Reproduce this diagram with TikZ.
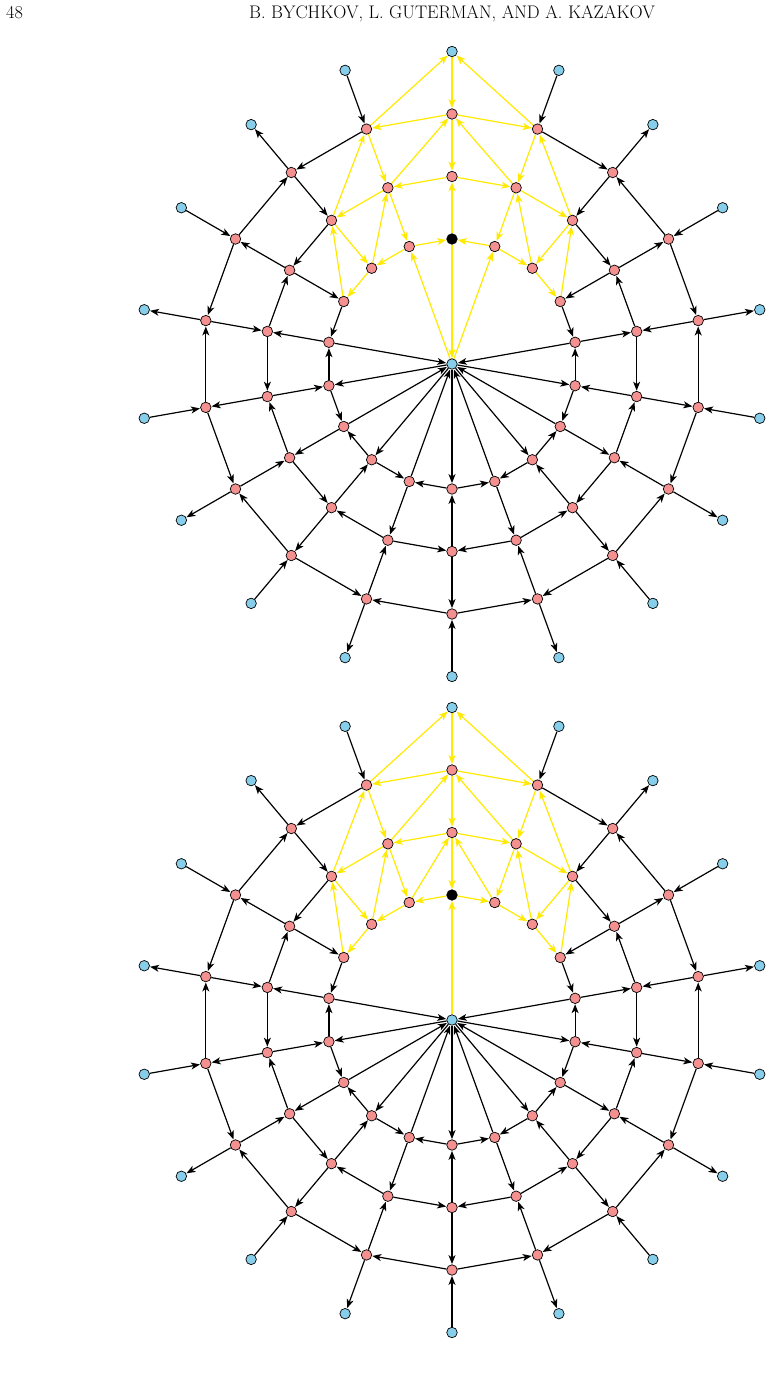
\documentclass[tikz,border=0pt]{standalone}
\usetikzlibrary{arrows.meta}
\definecolor{pinkc}{RGB}{244,144,144}
\definecolor{bluec}{RGB}{135,206,235}
\definecolor{yelc}{RGB}{255,234,0}
\pgfdeclarelayer{edgelayer}
\pgfsetlayers{edgelayer,main}
\tikzset{
  vtx/.style={circle, draw=black, line width=0.7pt, minimum size=10.5pt, inner sep=0pt},
  tipb/.style={-{Stealth[length=9pt,width=7pt,inset=2.5pt]}},
  bedge/.style={tipb, line width=1.2pt, draw=black, shorten >=0.3pt,
    preaction={draw=white, line width=3pt}},
  yedge/.style={tipb, line width=1.2pt, draw=yelc, shorten >=0.3pt,
    preaction={draw=white, line width=3pt}},
  head/.style={inner sep=0pt, font=\fontsize{18.2}{20}\selectfont}
}
\begin{document}
\begin{tikzpicture}[x=1pt,y=-1pt]
\useasboundingbox (0,0) rectangle (771,1373);
\node[head, anchor=base west] (pagenum) at (6,19) {48};
\node[head, anchor=base] (runhead) at (452,19) {B. BYCHKOV, L. GUTERMAN, AND A. KAZAKOV};
% vertices
\foreach \pre/\cy in {t/364,b/1020}{
  \node[vtx, fill=bluec] (\pre-C) at (452,\cy) {};
  \foreach \k in {1,...,4}{
    \foreach \i in {0,...,17}{
      \pgfmathsetmacro\rr{62.5*(\k+1)}
      \ifnum\k=4 \def\fc{bluec}\else\def\fc{pinkc}\fi
      \ifnum\k=1 \ifnum\i=9 \def\fc{black}\fi\fi
      \node[vtx, fill=\fc] (\pre-\k-\i) at ({452-\rr*sin(20*\i)},{\cy+\rr*cos(20*\i)}) {};
    }
  }
}
\begin{pgfonlayer}{edgelayer}
\foreach \pre in {t,b}{
  % ring (angular) edges
  \foreach \k in {1,2,3}{
    \foreach \i in {0,...,17}{
      \pgfmathtruncatemacro\jj{mod(\i+1,18)}
      \pgfmathtruncatemacro\sk{(((\k==1)&&(\i>5)&&(\i<12))||((\k==2)&&(\i>6)&&(\i<11))||((\k==3)&&(\i>7)&&(\i<10))) ? 1 : 0}
      \pgfmathtruncatemacro\pp{mod(\k+\i,2)}
      \ifnum\sk=0
        \ifnum\pp=1 \draw[bedge] (\pre-\k-\i) -- (\pre-\k-\jj);
        \else \draw[bedge] (\pre-\k-\jj) -- (\pre-\k-\i); \fi
      \fi
    }
  }
  % radial edges
  \foreach \k in {1,2,3}{
    \foreach \i in {0,...,17}{
      \pgfmathtruncatemacro\kk{\k+1}
      \pgfmathtruncatemacro\sk{(((\k==1)&&(\i>6)&&(\i<12))||((\k==2)&&(\i>7)&&(\i<11))||((\k==3)&&(\i==9))) ? 1 : 0}
      \pgfmathtruncatemacro\pp{mod(\k+\i,2)}
      \ifnum\sk=0
        \ifnum\pp=0 \draw[bedge] (\pre-\k-\i) -- (\pre-\kk-\i);
        \else \draw[bedge] (\pre-\kk-\i) -- (\pre-\k-\i); \fi
      \fi
    }
  }
  % centre edges
  \foreach \i in {0,...,5,13,14,...,17}{
    \pgfmathtruncatemacro\pp{mod(\i,2)}
    \ifnum\pp=0 \draw[bedge] (\pre-C) -- (\pre-1-\i);
    \else \draw[bedge] (\pre-1-\i) -- (\pre-C); \fi
  }
  % common yellow edges
  \foreach \a/\b in {1-7/1-6, 1-8/1-7, 1-11/1-12, 1-10/1-11,
      2-7/1-7, 2-8/1-8, 2-11/1-11, 2-10/1-10,
      1-6/2-7, 1-7/2-8, 1-12/2-11, 1-11/2-10,
      2-8/2-7, 2-9/2-8, 2-10/2-11, 2-9/2-10,
      3-8/2-8, 3-9/2-9, 3-10/2-10,
      2-7/3-8, 2-8/3-9, 2-11/3-10, 2-10/3-9,
      3-9/3-8, 3-9/3-10, 4-9/3-9, 3-8/4-9, 3-10/4-9}{
    \draw[yedge] (\pre-\a) -- (\pre-\b);
  }
}
% top-only yellow edges
\foreach \a/\b in {1-8/1-9, 1-10/1-9, 1-9/2-9, 1-9/C, C/1-8, C/1-10}{
  \draw[yedge] (t-\a) -- (t-\b);
}
% bottom-only yellow edges
\foreach \a/\b in {1-9/1-8, 1-9/1-10, 2-9/1-9, 1-8/2-9, 1-10/2-9, C/1-9}{
  \draw[yedge] (b-\a) -- (b-\b);
}
\end{pgfonlayer}
\end{tikzpicture}
\end{document}
